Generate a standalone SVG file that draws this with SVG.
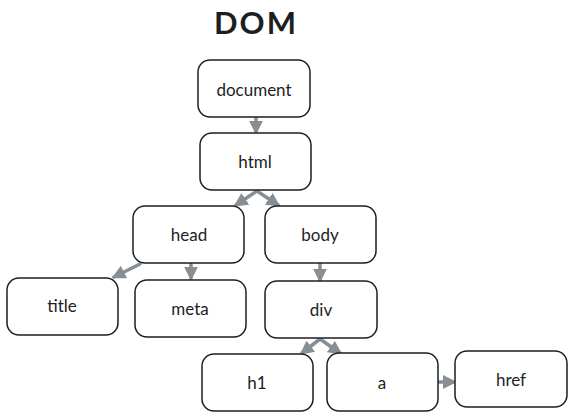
<svg xmlns="http://www.w3.org/2000/svg" width="571" height="413" viewBox="0 0 571 413">
<style>
.box{fill:#ffffff;stroke:#1e1e1e;stroke-width:1.5}
.lbl{font-family:"Lato","Liberation Sans",sans-serif;font-size:17px;fill:#1e1e1e;text-anchor:middle;dominant-baseline:central}
.title{font-family:"Lato","Liberation Sans",sans-serif;font-size:31px;font-weight:bold;fill:#1e1e1e;text-anchor:middle;letter-spacing:2px}
.con{stroke:#868e96;stroke-width:3.5;fill:none;stroke-linecap:round}
</style>
<defs>
<marker id="ah" viewBox="0 0 10 10" refX="8" refY="5" markerWidth="4" markerHeight="4" orient="auto" markerUnits="strokeWidth">
<path d="M0,0 L10,5 L0,10 z" fill="#868e96"/>
</marker>
</defs>
<text class="title" x="256" y="34">DOM</text>
<g id="connectors">
<line class="con" x1="256" y1="118" x2="256" y2="132" marker-end="url(#ah)"/>
<line class="con" x1="257" y1="191" x2="236" y2="205" marker-end="url(#ah)"/>
<line class="con" x1="257" y1="191" x2="278" y2="205" marker-end="url(#ah)"/>
<line class="con" x1="140" y1="264" x2="114" y2="277" marker-end="url(#ah)"/>
<line class="con" x1="191" y1="264" x2="191" y2="278" marker-end="url(#ah)"/>
<line class="con" x1="320" y1="264" x2="320" y2="280" marker-end="url(#ah)"/>
<line class="con" x1="320" y1="339" x2="302" y2="353" marker-end="url(#ah)"/>
<line class="con" x1="320" y1="339" x2="340" y2="353" marker-end="url(#ah)"/>
<line class="con" x1="439" y1="382" x2="454" y2="382" marker-end="url(#ah)"/>
</g>
<g id="document"><rect class="box" x="198" y="60" width="112" height="57" rx="12"/><text class="lbl" x="254" y="89">document</text></g>
<g id="html"><rect class="box" x="200" y="133" width="111" height="57" rx="12"/><text class="lbl" x="255" y="161">html</text></g>
<g id="head"><rect class="box" x="133" y="206" width="111" height="57" rx="12"/><text class="lbl" x="189" y="234">head</text></g>
<g id="body"><rect class="box" x="265" y="206" width="111" height="57" rx="12"/><text class="lbl" x="320" y="234">body</text></g>
<g id="title"><rect class="box" x="7" y="278" width="111" height="57" rx="12"/><text class="lbl" x="62" y="305">title</text></g>
<g id="meta"><rect class="box" x="135" y="280" width="111" height="57" rx="12"/><text class="lbl" x="190" y="308">meta</text></g>
<g id="div"><rect class="box" x="265" y="281" width="112" height="57" rx="12"/><text class="lbl" x="321" y="309">div</text></g>
<g id="h1"><rect class="box" x="202" y="354" width="111" height="57" rx="12"/><text class="lbl" x="257" y="382">h1</text></g>
<g id="a"><rect class="box" x="327" y="353" width="111" height="58" rx="12"/><text class="lbl" x="382" y="382">a</text></g>
<g id="href"><rect class="box" x="455" y="351" width="112" height="56" rx="12"/><text class="lbl" x="511" y="379">href</text></g>
</svg>
